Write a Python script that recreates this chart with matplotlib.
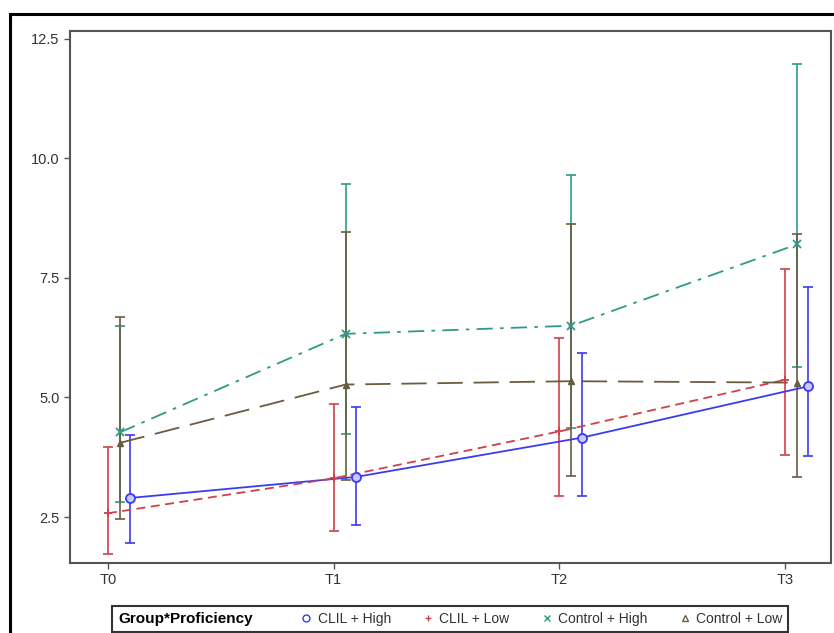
import numpy as np
import matplotlib
matplotlib.use("Agg")
import matplotlib.pyplot as plt
from matplotlib.lines import Line2D
from matplotlib.patches import Rectangle

plt.rcParams['font.family'] = ['Liberation Sans', 'DejaVu Sans']

# dados (média e limites do intervalo)
tempos = ['T0', 'T1', 'T2', 'T3']

clil_high = [2.90, 3.34, 4.16, 5.23]
clil_high_low = [1.96, 2.33, 2.94, 3.77]
clil_high_up = [4.21, 4.81, 5.92, 7.31]

clil_low = [2.58, 3.31, 4.29, 5.37]
clil_low_low = [1.73, 2.21, 2.94, 3.79]
clil_low_up = [3.96, 4.87, 6.25, 7.69]

ctrl_high = [4.27, 6.33, 6.50, 8.20]
ctrl_high_low = [2.81, 4.24, 4.36, 5.63]
ctrl_high_up = [6.50, 9.46, 9.65, 11.98]

ctrl_low = [4.05, 5.27, 5.34, 5.31]
ctrl_low_low = [2.46, 3.27, 3.35, 3.33]
ctrl_low_up = [6.68, 8.46, 8.62, 8.42]

rotulos = ['CLIL + High', 'CLIL + Low', 'Control + High', 'Control + Low']

# estilos de cada grupo
series = [
    (clil_high, clil_high_low, clil_high_up, 0.10, '#3b3bf0', '-', 'o'),
    (clil_low, clil_low_low, clil_low_up, 0.0, '#d0404c', (0, (5, 3)), '+'),
    (ctrl_high, ctrl_high_low, ctrl_high_up, 0.053, '#2f9a88', (0, (9, 4, 2, 4)), 'x'),
    (ctrl_low, ctrl_low_low, ctrl_low_up, 0.053, '#6b5c40', (0, (14, 6)), '^'),
]

fig = plt.figure(figsize=(8.34, 6.33), dpi=100)
ax = fig.add_axes([70 / 834, 1 - 563 / 633, (831 - 70) / 834, (563 - 31) / 633])

x = np.arange(len(tempos))
for media, inf, sup, desl, cor, estilo, marc in series:
    media = np.array(media)
    erro = [media - np.array(inf), np.array(sup) - media]
    xs = x + desl
    ax.errorbar(xs, media, yerr=erro, fmt='none', ecolor=cor, elinewidth=1.2,
                capsize=3.5, capthick=1.2, zorder=2)
    ax.plot(xs, media, color=cor, linestyle=estilo, linewidth=1.3, zorder=3)
    if marc == 'o':
        ax.plot(xs, media, linestyle='none', marker='o', markersize=6.5,
                markerfacecolor='#c8c8ff', markeredgecolor=cor, markeredgewidth=1.3, zorder=4)
    elif marc == '^':
        ax.plot(xs, media, linestyle='none', marker='^', markersize=4.5,
                color=cor, markeredgewidth=1.0, zorder=4)
    else:
        ax.plot(xs, media, linestyle='none', marker=marc, markersize=5.5,
                color=cor, markeredgewidth=1.3, zorder=4)

ax.set_xlim(-0.168, 3.204)
ax.set_ylim(1.54, 12.66)
ax.set_xticks(x)
ax.set_xticklabels(tempos)
ax.set_yticks([2.5, 5.0, 7.5, 10.0, 12.5])
ax.set_yticklabels(['2.5', '5.0', '7.5', '10.0', '12.5'])
ax.tick_params(direction='out', length=4, width=1, colors='#555555',
               labelcolor='#333333', labelsize=10.5)
for lado in ax.spines.values():
    lado.set_color('#555555')
    lado.set_linewidth(1.5)

# legenda em linha abaixo do gráfico
alcas = [Line2D([], [], linestyle='none')]
textos = ['Group*Proficiency']
for media, inf, sup, desl, cor, estilo, marc in series:
    if marc in ('o', '^'):
        alcas.append(Line2D([], [], linestyle='none', marker=marc, markersize=5,
                            markerfacecolor='none', markeredgecolor=cor, markeredgewidth=1.0))
    else:
        alcas.append(Line2D([], [], linestyle='none', marker=marc, markersize=5,
                            color=cor, markeredgewidth=1.0))
textos += rotulos

leg = fig.legend(alcas, textos, loc='center', bbox_to_anchor=(450 / 834, 1 - 619 / 633),
                 ncol=5, fontsize=10, frameon=True, fancybox=False, framealpha=1,
                 handlelength=0.8, handletextpad=0.4, columnspacing=2.3,
                 borderpad=0.4, borderaxespad=0)
leg.get_frame().set_edgecolor('#333333')
leg.get_frame().set_linewidth(1.5)
for i, t in enumerate(leg.get_texts()):
    if i == 0:
        t.set_fontweight('bold')
        t.set_fontsize(11)
        t.set_color('black')
        t.set_x(-16)  # encosta o título na borda esquerda da caixa
    else:
        t.set_color('#333333')

# moldura externa
fig.patches.append(Rectangle((10 / 834, -0.1), 1.2, 1 - 14 / 633 + 0.1,
                             transform=fig.transFigure, fill=False,
                             edgecolor='black', linewidth=2.2))

fig.savefig('out.png', dpi=100)
